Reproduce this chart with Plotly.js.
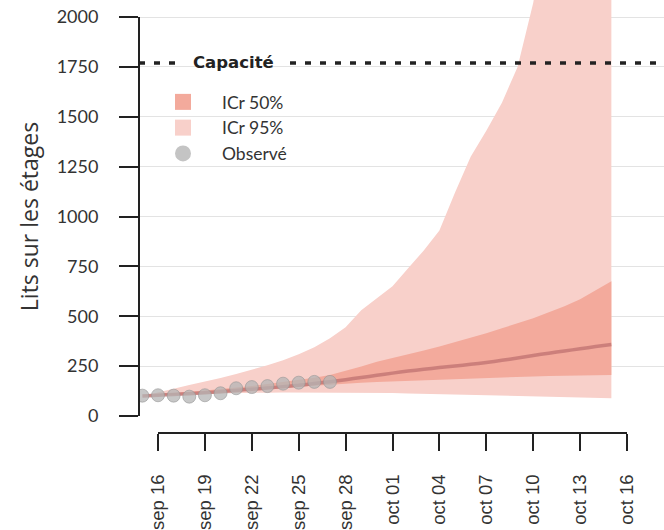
<!DOCTYPE html>
<html><head><meta charset="utf-8">
<script src="https://cdn.plot.ly/plotly-3.0.1.min.js"></script>
<style>html,body{margin:0;padding:0;background:#fff}#c{width:664px;height:530px}</style>
</head><body><div id="c"></div>
<script>
// ---- data ----
const dates = ['2020-09-15','2020-09-16','2020-09-17','2020-09-18','2020-09-19','2020-09-20','2020-09-21','2020-09-22','2020-09-23','2020-09-24','2020-09-25','2020-09-26','2020-09-27','2020-09-28','2020-09-29','2020-09-30','2020-10-01','2020-10-02','2020-10-03','2020-10-04','2020-10-05','2020-10-06','2020-10-07','2020-10-08','2020-10-09','2020-10-10','2020-10-11','2020-10-12','2020-10-13','2020-10-14','2020-10-15'];
const median = [100,104,108,112,117,122,128,134,140,147,154,163,172,182,193,204,215,225,234,243,251,259,268,279,291,303,315,326,337,348,358];
const lo50 = [100,102,105,108,112,117,122,128,134,140,146,152,158,163,167,171,174,177,180,183,186,189,192,194,196,198,200,202,203,204,205];
const hi50 = [100,108,114,121,128,135,143,151,160,170,180,192,205,225,248,272,290,308,328,348,370,392,415,440,465,490,520,550,585,628,675];
const lo95 = [100,104,107,110,112,114,115,116,117,118,118,118,118,118,117,117,115,113,111,109,107,105,103,101,99,97,95,94,92,90,89];
const hi95 = [100,120,137,155,172,190,210,232,255,280,310,345,390,445,530,590,650,740,830,930,1120,1300,1430,1570,1750,2070,2500,3000,3600,4300,5100];
const obsDates = ['2020-09-15','2020-09-16','2020-09-17','2020-09-18','2020-09-19','2020-09-20','2020-09-21','2020-09-22','2020-09-23','2020-09-24','2020-09-25','2020-09-26','2020-09-27'];
const obsVals = [102,104,102,97,104,114,139,145,150,162,167,171,171];
const capacity = 1770;
const xTickVals = ['2020-09-16','2020-09-19','2020-09-22','2020-09-25','2020-09-28','2020-10-01','2020-10-04','2020-10-07','2020-10-10','2020-10-13','2020-10-16'];
const xTickText = ['sep 16','sep 19','sep 22','sep 25','sep 28','oct 01','oct 04','oct 07','oct 10','oct 13','oct 16'];
const yTickVals = [0,250,500,750,1000,1250,1500,1750,2000];
const legendLabels = ['ICr 50%','ICr 95%','Observé'];

// ---- styles ----
const c95 = '#f8d0ca', c50 = '#f3aa9c', cMed = 'rgba(196,120,118,0.85)';
const traces = [
  {x:dates, y:lo95, mode:'lines', line:{width:0, color:c95}, showlegend:false, hoverinfo:'skip'},
  {x:dates, y:hi95, mode:'lines', line:{width:0, color:c95}, fill:'tonexty', fillcolor:c95, showlegend:false, hoverinfo:'skip'},
  {x:dates, y:lo50, mode:'lines', line:{width:0, color:c50}, showlegend:false, hoverinfo:'skip'},
  {x:dates, y:hi50, mode:'lines', line:{width:0, color:c50}, fill:'tonexty', fillcolor:c50, showlegend:false, hoverinfo:'skip'},
  {x:dates, y:median, mode:'lines', line:{width:3.5, color:cMed, shape:'spline', smoothing:0.6}, showlegend:false},
  {x:obsDates, y:obsVals, mode:'markers', marker:{size:13, color:'rgba(180,180,180,0.75)', line:{width:1, color:'rgba(150,150,150,0.6)'}}, showlegend:false},
  {x:[null], y:[null], mode:'markers', name:legendLabels[0], marker:{symbol:'square', size:20, color:c50}},
  {x:[null], y:[null], mode:'markers', name:legendLabels[1], marker:{symbol:'square', size:20, color:c95}},
  {x:[null], y:[null], mode:'markers', name:legendLabels[2], marker:{symbol:'circle', size:20, color:'#c4c4c4'}},
  // carrier for the capped axes
  {x:[null], y:[null], xaxis:'x2', yaxis:'y2', mode:'markers', showlegend:false, hoverinfo:'skip'}
];

const W = 525, H = 433, L = 139, B = 97;
const dayPx = 469/30;
const d0 = Date.UTC(2020,8,16);
const day = 86400000;
const toStr = ms => new Date(ms).toISOString().replace('T',' ').slice(0,19);
const xLeft = toStr(d0 - (158-L)/dayPx*day);
const xRight = toStr(d0 + (664-158)/dayPx*day);

const layout = {
  width:664, height:530,
  margin:{l:L, r:0, t:0, b:B, pad:0},
  paper_bgcolor:'#fff', plot_bgcolor:'rgba(0,0,0,0)',
  showlegend:true,
  legend:{x:(144-L)/W, y:1-84/H, xanchor:'left', yanchor:'top', bgcolor:'rgba(0,0,0,0)', traceorder:'normal',
          font:{family:'Lato, sans-serif', size:17.5, color:'#333'}, itemwidth:68, tracegroupgap:0},
  xaxis:{type:'date', range:[xLeft, xRight], domain:[0,1], showgrid:false, showline:false, zeroline:false,
         showticklabels:false, ticks:'', anchor:'y'},
  yaxis:{range:[0, 416*2000/399], domain:[(H-416)/H, 1], showgrid:true, gridcolor:'#e3e3e3', gridwidth:1,
         tickvals:yTickVals, showticklabels:false, ticks:'', zeroline:false, showline:false, anchor:'x'},
  yaxis2:{range:[0,2000], domain:[(H-416)/H, (H-17)/H], anchor:'free', position:0, side:'left', showgrid:false, zeroline:false,
          showline:true, linecolor:'#222', linewidth:2, ticks:'outside', ticklen:19, tickwidth:2, tickcolor:'#222',
          tickvals:yTickVals, ticklabelstandoff:17,
          tickfont:{family:'Lato, sans-serif', size:18, color:'#333'},
          title:{text:'Lits sur les étages', font:{family:'Open Sans, sans-serif', size:23, color:'#333'}, standoff:11}},
  xaxis2:{type:'date', range:['2020-09-16','2020-10-16'], domain:[(158-L)/W, (627-L)/W], anchor:'free', position:0,
          showgrid:false, zeroline:false, showline:true, linecolor:'#222', linewidth:2,
          ticks:'outside', ticklen:17, tickwidth:2, tickcolor:'#222', tickvals:xTickVals, ticktext:xTickText,
          tickangle:-90, ticklabelstandoff:16, tickfont:{family:'Liberation Sans, Arial, sans-serif', size:18.5, color:'#333'}},
  shapes:[
    {type:'line', xref:'paper', x0:0, x1:(182-L)/W, yref:'y', y0:capacity, y1:capacity, line:{color:'#222', width:3.5, dash:'6px,9px'}, layer:'above'},
    {type:'line', xref:'paper', x0:(290-L)/W, x1:1, yref:'y', y0:capacity, y1:capacity, line:{color:'#222', width:3.5, dash:'6px,9px'}, layer:'above'}
  ],
  annotations:[
    {xref:'paper', x:(233.5-L)/W, yref:'y', y:capacity, text:'<b>Capacité</b>', showarrow:false,
     font:{family:'DejaVu Sans, sans-serif', size:16.5, color:'#222'}, xanchor:'center', yanchor:'middle'}
  ]
};
Plotly.newPlot('c', traces, layout, {displayModeBar:false, staticPlot:true});
</script></body></html>
